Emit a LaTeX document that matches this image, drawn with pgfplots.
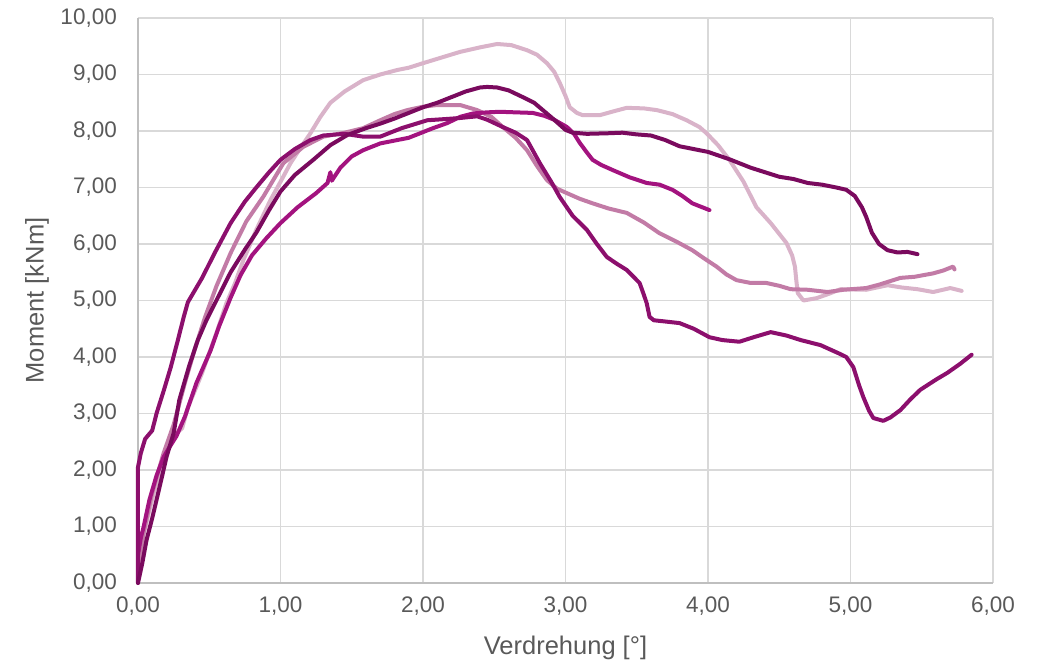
\documentclass[border=0pt]{standalone}
\usepackage{fontspec}
\setmainfont{Liberation Sans}
\usepackage{pgfplots}
\pgfplotsset{compat=1.18}
\definecolor{cA}{HTML}{7A0A5E}
\definecolor{cB}{HTML}{A3137F}
\definecolor{cC}{HTML}{8C0F6D}
\definecolor{cD}{HTML}{C27BA6}
\definecolor{cE}{HTML}{D9B3C9}
\definecolor{txt}{HTML}{595959}
\definecolor{gridc}{HTML}{D9D9D9}
\definecolor{axc}{HTML}{BFBFBF}
\begin{document}
\begin{tikzpicture}
\begin{axis}[
  scale only axis, width=855bp, height=565bp,
  xmin=0, xmax=6, ymin=0, ymax=10,
  xtick={0,1,...,6}, ytick={0,1,...,10},
  axis lines*=left, axis line style={draw=axc, line width=1.5bp, -},
  grid=major, major grid style={draw=gridc, line width=1.5bp},
  major tick length=0pt,
  clip=false,
  /pgf/number format/.cd, fixed, fixed zerofill, precision=2, use comma, 1000 sep={}, assume math mode=true,
  /pgfplots/.cd,
  ticklabel style={font=\fontsize{22.5bp}{26bp}\selectfont, text=txt},
  yticklabel style={anchor=east, inner sep=0pt, xshift=-21bp},
  xticklabel style={anchor=north, inner sep=0pt, yshift=-14bp},
  label style={font=\fontsize{25.5bp}{30bp}\selectfont, text=txt},
  xlabel={Verdrehung [°]},
  ylabel={Moment [kNm]},
  xlabel style={at={(axis description cs:0.5,-0.1150)}, anchor=center},
  ylabel style={at={(axis description cs:-0.1181,0.5)}, anchor=center},
  every axis plot/.append style={line width=4bp, line join=round, line cap=round, mark=none},
]
\coordinate (bl) at (rel axis cs:0,0);
\coordinate (tr) at (rel axis cs:1,1);
% E light
\addplot[cE] coordinates {(0,0.1)(0.04,0.88)(0.11,1.59)(0.2,2.35)(0.27,2.65)(0.31,2.74)(0.35,3.11)(0.41,3.47)(0.45,3.72)(0.55,4.42)(0.62,4.95)(0.68,5.3)(0.74,5.72)(0.83,6.25)(0.93,6.78)(1.0,7.1)(1.07,7.43)(1.14,7.7)(1.21,7.96)(1.28,8.25)(1.35,8.5)(1.45,8.7)(1.58,8.9)(1.7,9.0)(1.82,9.08)(1.9,9.12)(2.0,9.2)(2.13,9.3)(2.26,9.4)(2.4,9.48)(2.52,9.54)(2.62,9.52)(2.73,9.43)(2.8,9.35)(2.87,9.2)(2.92,9.05)(2.96,8.85)(3.0,8.62)(3.03,8.42)(3.08,8.32)(3.12,8.28)(3.24,8.28)(3.34,8.35)(3.43,8.41)(3.55,8.4)(3.64,8.37)(3.75,8.3)(3.85,8.19)(3.94,8.07)(3.99,7.96)(4.07,7.75)(4.15,7.49)(4.25,7.1)(4.34,6.65)(4.44,6.37)(4.55,6.02)(4.59,5.8)(4.61,5.6)(4.62,5.35)(4.63,5.13)(4.67,5.0)(4.76,5.04)(4.85,5.12)(4.93,5.2)(5.11,5.19)(5.26,5.27)(5.36,5.23)(5.47,5.2)(5.58,5.15)(5.7,5.22)(5.78,5.17)};
% D mauve
\addplot[cD] coordinates {(0,0.2)(0.04,0.9)(0.1,1.6)(0.18,2.3)(0.25,2.8)(0.33,3.55)(0.4,4.15)(0.47,4.7)(0.55,5.25)(0.65,5.84)(0.76,6.4)(0.88,6.84)(1.02,7.43)(1.16,7.72)(1.3,7.9)(1.45,7.97)(1.58,8.05)(1.7,8.19)(1.8,8.3)(1.89,8.37)(2.0,8.43)(2.1,8.46)(2.26,8.46)(2.38,8.37)(2.48,8.25)(2.56,8.07)(2.65,7.88)(2.73,7.66)(2.8,7.38)(2.87,7.13)(2.94,6.98)(3.01,6.9)(3.1,6.8)(3.19,6.72)(3.3,6.63)(3.43,6.55)(3.55,6.38)(3.66,6.19)(3.78,6.04)(3.89,5.89)(3.97,5.75)(4.06,5.6)(4.13,5.46)(4.2,5.36)(4.3,5.31)(4.41,5.31)(4.5,5.26)(4.58,5.2)(4.7,5.19)(4.84,5.15)(4.95,5.19)(5.11,5.22)(5.2,5.28)(5.35,5.4)(5.45,5.42)(5.58,5.48)(5.65,5.53)(5.72,5.6)(5.73,5.55)};
% B magenta
\addplot[cB] coordinates {(0,0.5)(0.02,0.8)(0.04,1.0)(0.08,1.47)(0.13,1.9)(0.18,2.23)(0.22,2.4)(0.27,2.6)(0.33,2.95)(0.41,3.54)(0.51,4.12)(0.57,4.55)(0.65,5.05)(0.72,5.45)(0.8,5.8)(0.9,6.1)(1.0,6.37)(1.12,6.65)(1.25,6.9)(1.33,7.08)(1.35,7.27)(1.36,7.12)(1.42,7.35)(1.5,7.55)(1.58,7.66)(1.7,7.78)(1.82,7.84)(1.9,7.88)(1.98,7.96)(2.07,8.05)(2.17,8.14)(2.26,8.25)(2.35,8.31)(2.45,8.33)(2.54,8.34)(2.65,8.33)(2.77,8.32)(2.85,8.27)(2.92,8.2)(3.01,8.07)(3.06,7.95)(3.1,7.79)(3.15,7.62)(3.19,7.49)(3.25,7.4)(3.33,7.31)(3.45,7.18)(3.57,7.08)(3.66,7.05)(3.75,6.96)(3.82,6.85)(3.89,6.72)(3.95,6.66)(4.01,6.6)};
% C medium
\addplot[cC] coordinates {(0,0)(0,2.05)(0.02,2.3)(0.05,2.55)(0.1,2.7)(0.13,3.0)(0.18,3.4)(0.23,3.82)(0.28,4.3)(0.32,4.7)(0.35,4.97)(0.45,5.4)(0.54,5.85)(0.65,6.37)(0.75,6.75)(0.83,7.0)(0.92,7.27)(1.0,7.49)(1.1,7.68)(1.21,7.84)(1.3,7.92)(1.45,7.95)(1.58,7.9)(1.7,7.9)(1.85,8.05)(2.03,8.19)(2.15,8.21)(2.26,8.23)(2.38,8.26)(2.45,8.2)(2.56,8.07)(2.65,7.97)(2.73,7.84)(2.82,7.43)(2.9,7.1)(2.96,6.83)(3.05,6.5)(3.15,6.25)(3.22,6.0)(3.29,5.77)(3.36,5.65)(3.43,5.54)(3.52,5.31)(3.55,5.1)(3.57,4.95)(3.59,4.71)(3.62,4.65)(3.73,4.62)(3.8,4.6)(3.9,4.5)(4.01,4.35)(4.1,4.3)(4.22,4.27)(4.32,4.35)(4.44,4.44)(4.55,4.38)(4.65,4.3)(4.79,4.21)(4.93,4.05)(4.97,4.0)(5.02,3.82)(5.06,3.5)(5.09,3.29)(5.13,3.05)(5.16,2.92)(5.23,2.87)(5.28,2.93)(5.35,3.06)(5.42,3.25)(5.49,3.42)(5.6,3.6)(5.68,3.72)(5.77,3.88)(5.85,4.04)};
% A dark
\addplot[cA] coordinates {(0,0)(0.03,0.35)(0.06,0.76)(0.1,1.15)(0.13,1.47)(0.17,1.9)(0.2,2.23)(0.25,2.65)(0.29,3.24)(0.36,3.85)(0.42,4.3)(0.48,4.65)(0.55,5.0)(0.65,5.5)(0.75,5.9)(0.83,6.2)(0.92,6.6)(1.0,6.93)(1.1,7.22)(1.23,7.49)(1.35,7.75)(1.47,7.93)(1.6,8.05)(1.7,8.13)(1.8,8.22)(1.9,8.32)(2.0,8.42)(2.1,8.5)(2.2,8.6)(2.3,8.7)(2.4,8.77)(2.45,8.78)(2.52,8.77)(2.6,8.72)(2.7,8.6)(2.78,8.5)(2.85,8.35)(2.92,8.2)(3.0,8.02)(3.05,7.97)(3.15,7.95)(3.3,7.96)(3.4,7.97)(3.5,7.94)(3.6,7.92)(3.7,7.84)(3.8,7.73)(3.9,7.68)(4.0,7.63)(4.15,7.5)(4.3,7.35)(4.4,7.27)(4.5,7.19)(4.6,7.15)(4.7,7.08)(4.8,7.05)(4.9,7.0)(4.97,6.96)(5.03,6.85)(5.08,6.65)(5.11,6.48)(5.15,6.2)(5.2,6.0)(5.26,5.89)(5.33,5.85)(5.4,5.86)(5.47,5.82)};
\end{axis}
\pgfresetboundingbox
\useasboundingbox ([shift={(-138bp,-83bp)}]bl) rectangle ([shift={(53bp,18bp)}]tr);
\end{tikzpicture}
\end{document}
